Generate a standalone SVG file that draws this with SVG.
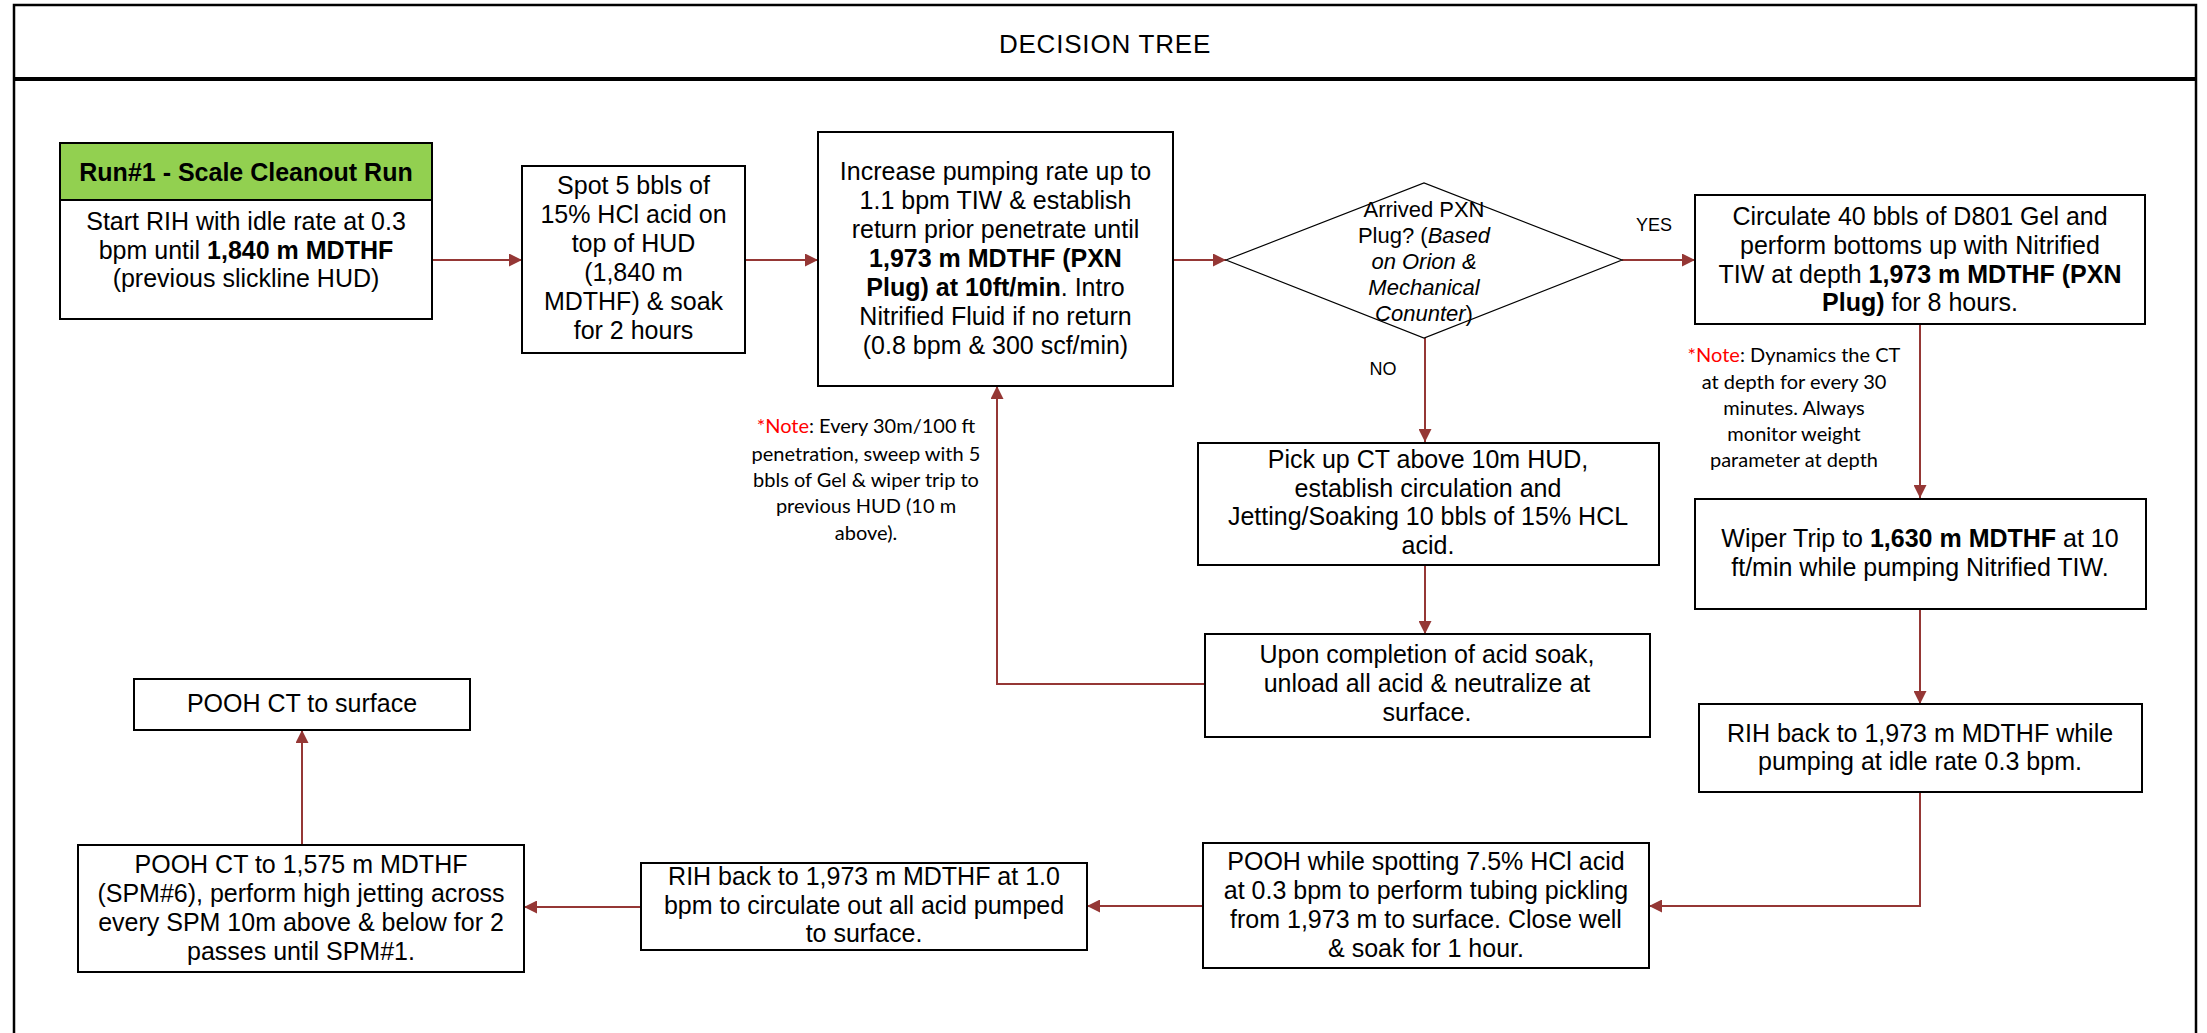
<svg xmlns="http://www.w3.org/2000/svg" width="2207" height="1033" viewBox="0 0 2207 1033">
<style>
.box{fill:#fff;stroke:#000;stroke-width:2}
.hdr{fill:#92D050;stroke:#000;stroke-width:2}
.dia{fill:#fff;stroke:#000;stroke-width:1.2}
.c{fill:none;stroke:#953735;stroke-width:2}
.t{font-family:"Liberation Sans",Arial,sans-serif;font-size:25px;text-anchor:middle;fill:#000}
.b{font-weight:bold}
.i{font-style:italic}
.d{font-size:22px}
.lb{font-family:"Liberation Sans",Arial,sans-serif;font-size:18px;text-anchor:middle;fill:#000}
.n{font-family:Lato,"Liberation Sans",sans-serif;font-size:20px;text-anchor:middle;fill:#000}
.r{fill:#ff0000}
</style>
<defs>
<marker id="ah" viewBox="0 0 13 13" refX="13" refY="6.5" markerWidth="13" markerHeight="13" orient="auto" markerUnits="userSpaceOnUse">
<path d="M0,0 L13,6.5 L0,13 z" fill="#953735"/>
</marker>
</defs>
<rect width="2207" height="1033" fill="#fff"/>
<g id="frame">
<rect x="14" y="5" width="2182" height="1045" fill="none" stroke="#000" stroke-width="2.5"/>
<line x1="14" y1="79" x2="2196" y2="79" stroke="#000" stroke-width="4"/>
<text x="1105" y="53" style="font-family:'Liberation Sans',Arial,sans-serif;font-size:26px;letter-spacing:0.8px" text-anchor="middle">DECISION TREE</text>
</g>
<g id="connectors">
<path class="c" d="M432,260 H522" marker-end="url(#ah)"/>
<path class="c" d="M745,260 H818" marker-end="url(#ah)"/>
<path class="c" d="M1173,260 H1226" marker-end="url(#ah)"/>
<path class="c" d="M1622,260 H1695" marker-end="url(#ah)"/>
<path class="c" d="M1920,324 V498" marker-end="url(#ah)"/>
<path class="c" d="M1920,609 V704" marker-end="url(#ah)"/>
<path class="c" d="M1920,792 V906 H1649" marker-end="url(#ah)"/>
<path class="c" d="M1203,906 H1087" marker-end="url(#ah)"/>
<path class="c" d="M641,907 H524" marker-end="url(#ah)"/>
<path class="c" d="M302,845 V730" marker-end="url(#ah)"/>
<path class="c" d="M1425,338 V442" marker-end="url(#ah)"/>
<path class="c" d="M1425,565 V634" marker-end="url(#ah)"/>
<path class="c" d="M1204,684 H997 V386" marker-end="url(#ah)"/>
<text class="lb" x="1654" y="231">YES</text>
<text class="lb" x="1383" y="375">NO</text>
</g>
<g id="n1">
<rect class="hdr" x="60" y="143" width="372" height="57"/>
<text class="t b" x="246" y="181">Run#1 - Scale Cleanout Run</text>
<rect class="box" x="60" y="200" width="372" height="119"/>
<text class="t" x="246" y="230">Start RIH with idle rate at 0.3</text>
<text class="t" x="246" y="258.5">bpm until <tspan class="b">1,840 m MDTHF</tspan></text>
<text class="t" x="246" y="287">(previous slickline HUD)</text>
</g>
<g id="n2">
<rect class="box" x="522" y="166" width="223" height="187"/>
<text class="t" x="633.5" y="194">Spot 5 bbls of</text>
<text class="t" x="633.5" y="223">15% HCl acid on</text>
<text class="t" x="633.5" y="252">top of HUD</text>
<text class="t" x="633.5" y="281">(1,840 m</text>
<text class="t" x="633.5" y="310">MDTHF) &amp; soak</text>
<text class="t" x="633.5" y="339">for 2 hours</text>
</g>
<g id="n3">
<rect class="box" x="818" y="132" width="355" height="254"/>
<text class="t" x="995.5" y="180">Increase pumping rate up to</text>
<text class="t" x="995.5" y="209">1.1 bpm TIW &amp; establish</text>
<text class="t" x="995.5" y="238">return prior penetrate until</text>
<text class="t b" x="995.5" y="267">1,973 m MDTHF (PXN</text>
<text class="t" x="995.5" y="296"><tspan class="b">Plug) at 10ft/min</tspan>. Intro</text>
<text class="t" x="995.5" y="325">Nitrified Fluid if no return</text>
<text class="t" x="995.5" y="354">(0.8 bpm &amp; 300 scf/min)</text>
</g>
<g id="n4">
<polygon class="dia" points="1226,260 1424,183 1622,260 1424,338"/>
<text class="t d" x="1424" y="217">Arrived  PXN</text>
<text class="t d" x="1424" y="243">Plug? (<tspan class="i">Based</tspan></text>
<text class="t d i" x="1424" y="268.5">on Orion &amp;</text>
<text class="t d i" x="1424" y="294.5">Mechanical</text>
<text class="t d" x="1424" y="320.5"><tspan class="i">Conunter</tspan>)</text>
</g>
<g id="n5">
<rect class="box" x="1695" y="195" width="450" height="129"/>
<text class="t" x="1920" y="225">Circulate 40 bbls of D801 Gel and</text>
<text class="t" x="1920" y="254">perform bottoms up with  Nitrified</text>
<text class="t" x="1920" y="282.5">TIW at depth <tspan class="b">1,973 m MDTHF (PXN</tspan></text>
<text class="t" x="1920" y="311"><tspan class="b">Plug)</tspan> for 8 hours.</text>
</g>
<g id="note2">
<text class="n" x="1794" y="362"><tspan class="r">*Note</tspan>: Dynamics the CT</text>
<text class="n" x="1794" y="388.5">at depth for every 30</text>
<text class="n" x="1794" y="415">minutes. Always</text>
<text class="n" x="1794" y="441">monitor weight</text>
<text class="n" x="1794" y="467">parameter at depth</text>
</g>
<g id="n6">
<rect class="box" x="1695" y="499" width="451" height="110"/>
<text class="t" x="1920" y="547">Wiper Trip to <tspan class="b">1,630 m MDTHF</tspan> at 10</text>
<text class="t" x="1920" y="575.5">ft/min while pumping Nitrified  TIW.</text>
</g>
<g id="n7">
<rect class="box" x="1699" y="704" width="443" height="88"/>
<text class="t" x="1920" y="742">RIH back to 1,973 m MDTHF  while</text>
<text class="t" x="1920" y="770">pumping at idle rate 0.3 bpm.</text>
</g>
<g id="n8">
<rect class="box" x="1203" y="843" width="446" height="125"/>
<text class="t" x="1426" y="870">POOH while  spotting 7.5% HCl acid</text>
<text class="t" x="1426" y="899">at 0.3 bpm to perform tubing pickling</text>
<text class="t" x="1426" y="928">from 1,973 m to surface. Close well</text>
<text class="t" x="1426" y="957">&amp; soak for 1 hour.</text>
</g>
<g id="n9">
<rect class="box" x="641" y="863" width="446" height="87"/>
<text class="t" x="864" y="885">RIH back to 1,973 m MDTHF  at 1.0</text>
<text class="t" x="864" y="913.5">bpm to circulate out all acid pumped</text>
<text class="t" x="864" y="942">to surface.</text>
</g>
<g id="n10">
<rect class="box" x="78" y="845" width="446" height="127"/>
<text class="t" x="301" y="873">POOH CT to 1,575 m MDTHF</text>
<text class="t" x="301" y="902">(SPM#6), perform high jetting across</text>
<text class="t" x="301" y="931">every SPM  10m above &amp; below for 2</text>
<text class="t" x="301" y="960">passes until SPM#1.</text>
</g>
<g id="n11">
<rect class="box" x="134" y="679" width="336" height="51"/>
<text class="t" x="302" y="712">POOH CT to surface</text>
</g>
<g id="n12">
<rect class="box" x="1198" y="443" width="461" height="122"/>
<text class="t" x="1428" y="468">Pick up CT above 10m HUD,</text>
<text class="t" x="1428" y="496.5">establish circulation and</text>
<text class="t" x="1428" y="525">Jetting/Soaking 10 bbls of 15% HCL</text>
<text class="t" x="1428" y="553.5">acid.</text>
</g>
<g id="n13">
<rect class="box" x="1205" y="634" width="445" height="103"/>
<text class="t" x="1427" y="663">Upon completion of acid soak,</text>
<text class="t" x="1427" y="692">unload all acid &amp; neutralize at</text>
<text class="t" x="1427" y="720.5">surface.</text>
</g>
<g id="note1">
<text class="n" x="866" y="433"><tspan class="r">*Note</tspan>: Every 30m/100 ft</text>
<text class="n" x="866" y="460.5">penetration, sweep with 5</text>
<text class="n" x="866" y="487">bbls of Gel &amp; wiper trip to</text>
<text class="n" x="866" y="513">previous HUD (10 m</text>
<text class="n" x="866" y="539.5">above).</text>
</g>
</svg>
